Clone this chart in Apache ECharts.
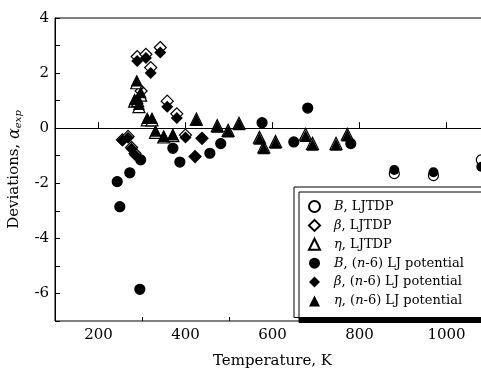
<!DOCTYPE html>
<html><head><meta charset="utf-8">
<script src="https://cdn.jsdelivr.net/npm/echarts@6/dist/echarts.min.js"></script>
<style>html,body{margin:0;padding:0;background:#fff}#c{width:481px;height:369px}</style>
</head><body><div id="c"></div>
<script>
// ---- tick labels ----
const xMajorTicks = [200, 400, 600, 800, 1000];
const xMinorTicks = [300, 500, 700, 900];
const yTickValues = [-7, -6, -5, -4, -3, -2, -1, 0, 1, 2, 3, 4];
const yTickLabels = [-6, -4, -2, 0, 2, 4];

// ---- series names ----
const seriesNames = [
  'B, LJTDP', 'β, LJTDP', 'η, LJTDP',
  'B, (n-6) LJ potential', 'β, (n-6) LJ potential', 'η, (n-6) LJ potential'
];
const legendRich = {
  'B, LJTDP': '{p|}{i|B}, LJTDP',
  'β, LJTDP': '{p|}{i|β}, LJTDP',
  'η, LJTDP': '{p|}{i|η}, LJTDP',
  'B, (n-6) LJ potential': '{p|}{i|B}, ({i|n}-6) LJ potential',
  'β, (n-6) LJ potential': '{p|}{i|β}, ({i|n}-6) LJ potential',
  'η, (n-6) LJ potential': '{p|}{i|η}, ({i|n}-6) LJ potential'
};

// ---- data: [temperature K, deviation] ----
const bLJTDP = [[243,-1.94],[249,-2.85],[272,-1.62],[297,-1.15],[295,-5.85],[371,-0.73],[387,-1.23],[456,-0.91],[481,-0.56],[576,0.2],[649,-0.5],[681,0.73],[780,-0.56],[880,-1.65],[970,-1.72],[1080,-1.15]];
const betaLJTDP = [[255,-0.42],[268,-0.3],[276,-0.7],[284,-0.92],[289,2.6],[298,1.35],[309,2.68],[320,2.2],[342,2.93],[358,0.98],[380,0.52],[400,-0.25],[422,-1.03],[438,-0.37]];
const etaLJTDP = [[288,1.65],[283,0.98],[297,1.2],[290,1.0],[293,0.78],[312,0.3],[323,0.3],[331,-0.15],[350,-0.32],[371,-0.27],[425,0.33],[473,0.09],[498,-0.08],[523,0.18],[570,-0.33],[580,-0.68],[607,-0.48],[676,-0.22],[692,-0.55],[746,-0.55],[772,-0.22]];
const bN6 = [[243,-1.94],[249,-2.85],[272,-1.62],[297,-1.15],[295,-5.85],[371,-0.73],[387,-1.23],[456,-0.91],[481,-0.56],[576,0.2],[649,-0.5],[681,0.73],[780,-0.56],[880,-1.52],[970,-1.6],[1080,-1.4]];
const betaN6 = [[255,-0.45],[268,-0.35],[276,-0.75],[284,-0.97],[289,2.44],[309,2.55],[320,2.0],[342,2.75],[358,0.78],[380,0.37],[400,-0.34],[422,-1.03],[438,-0.37]];
const etaN6 = [[288,1.73],[283,1.05],[297,1.3],[290,1.1],[293,0.88],[312,0.37],[323,0.37],[331,-0.09],[350,-0.29],[371,-0.23],[425,0.3],[473,0.05],[498,-0.12],[523,0.14],[570,-0.38],[580,-0.73],[607,-0.53],[676,-0.28],[692,-0.6],[746,-0.6],[772,-0.27]];

const FONT = 'DejaVu Serif';
const openStyle = {color: '#fff', borderColor: '#000', borderWidth: 1.2, opacity: 1};
const fillStyle = {color: '#000', borderColor: '#000', borderWidth: 0, opacity: 1};

function sc(name, data, symbol, size, filled) {
  return {
    type: 'scatter', name: name, data: data, symbol: symbol, symbolSize: size,
    symbolKeepAspect: true,
    itemStyle: filled ? fillStyle : openStyle,
    emphasis: {disabled: true}, silent: true
  };
}

const series = [
  sc(seriesNames[0], bLJTDP, 'circle', 10, false),
  sc(seriesNames[1], betaLJTDP, 'diamond', 12, false),
  sc(seriesNames[2], etaLJTDP, 'triangle', 12, false),
  sc(seriesNames[3], bN6, 'circle', 10, true),
  sc(seriesNames[4], betaN6, 'diamond', 12, true),
  sc(seriesNames[5], etaN6, 'triangle', 12, true)
];
series[0].markLine = {
  silent: true, symbol: 'none', label: {show: false}, animation: false,
  lineStyle: {color: '#000', width: 1, type: 'solid'},
  data: [{yAxis: 0}]
};

const chart = echarts.init(document.getElementById('c'), null, {renderer: 'canvas'});
chart.setOption({
  animation: false,
  backgroundColor: '#fff',
  grid: {left: 55, top: 18, right: -9, bottom: 48, show: true, borderColor: '#000', borderWidth: 1, outerBoundsMode: 'none', containLabel: false},
  xAxis: [{
    type: 'value', min: 100, max: 1100, position: 'bottom',
    axisLine: {show: true, lineStyle: {color: '#000', width: 1}},
    axisTick: {show: true, inside: true, length: 6, customValues: xMajorTicks, lineStyle: {color: '#000'}},
    axisLabel: {customValues: xMajorTicks, margin: 7, fontFamily: FONT, fontSize: 15, color: '#000',
      formatter: function (v) { return String(v); }},
    splitLine: {show: false},
    name: 'Temperature, K', nameLocation: 'middle', nameGap: 33,
    nameTextStyle: {fontFamily: FONT, fontSize: 15, color: '#000'}
  }, {
    type: 'value', min: 100, max: 1100, position: 'bottom',
    axisLine: {show: false},
    axisTick: {show: true, inside: true, length: 4, customValues: xMinorTicks, lineStyle: {color: '#000'}},
    axisLabel: {show: false},
    splitLine: {show: false}
  }],
  yAxis: {
    type: 'value', min: -7, max: 4, interval: 1,
    axisLine: {show: true, lineStyle: {color: '#000', width: 1}},
    axisTick: {show: true, inside: true, length: 5, customValues: yTickValues, lineStyle: {color: '#000'}},
    axisLabel: {customValues: yTickLabels, margin: 6, fontFamily: FONT, fontSize: 15, color: '#000',
      formatter: function (v) { return String(v); }},
    splitLine: {show: false},
    name: 'Deviations, {a|α}{s|exp}', nameLocation: 'middle', nameGap: 27, nameRotate: 90,
    nameTextStyle: {
      fontFamily: FONT, fontSize: 15, color: '#000', lineHeight: 18,
      rich: {
        a: {fontFamily: FONT, fontSize: 16, fontStyle: 'italic', color: '#000', lineHeight: 18},
        s: {fontFamily: FONT, fontSize: 10, fontStyle: 'italic', color: '#000', lineHeight: 8, verticalAlign: 'bottom'}
      }
    }
  },
  legend: {
    orient: 'vertical', left: 294, top: 187,
    itemWidth: 11, itemHeight: 11, itemGap: 5.9,
    symbolKeepAspect: true,
    padding: [13, 60, 10, 14],
    backgroundColor: '#fff', borderColor: '#000', borderWidth: 1, borderRadius: 0,
    shadowColor: '#000', shadowBlur: 0, shadowOffsetX: 5, shadowOffsetY: 5,
    selectedMode: false,
    data: seriesNames,
    formatter: function (n) { return legendRich[n]; },
    textStyle: {
      fontFamily: FONT, fontSize: 13, color: '#000', lineHeight: 12,
      rich: {
        i: {fontFamily: FONT, fontSize: 13, fontStyle: 'italic', color: '#000', lineHeight: 12},
        p: {width: 9, lineHeight: 12}
      }
    }
  },
  series: series
});
</script>
</body></html>
